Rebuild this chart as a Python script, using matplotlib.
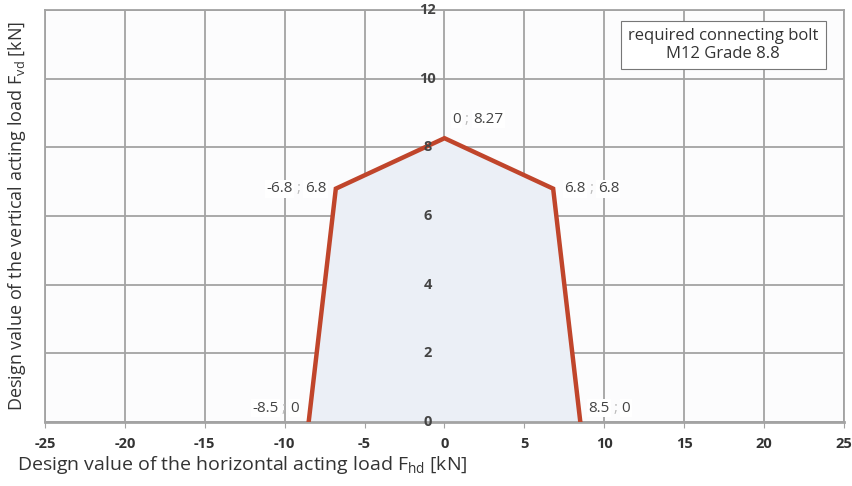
import matplotlib
matplotlib.use('Agg')
import matplotlib.pyplot as plt

plt.rcParams['font.family'] = ['Open Sans', 'DejaVu Sans']
plt.rcParams['axes.unicode_minus'] = False

# interaction diagram points (horizontal load, vertical load)
fh = [-8.5, -6.8, 0, 6.8, 8.5]
fv = [0, 6.8, 8.27, 6.8, 0]
point_labels = [('-8.5', '0'), ('-6.8', '6.8'), ('0', '8.27'), ('6.8', '6.8'), ('8.5', '0')]

x_ticks = [-25, -20, -15, -10, -5, 0, 5, 10, 15, 20, 25]
y_ticks = [0, 2, 4, 6, 8, 10, 12]

fig = plt.figure(figsize=(8.52, 4.86), dpi=100)
ax = fig.add_axes([0.0528, 0.1317, 0.9378, 0.8473])
ax.set_facecolor('#fcfcfd')

ax.set_xlim(-25, 25)
ax.set_ylim(0, 12)
ax.set_xticks(x_ticks)
ax.set_yticks(y_ticks)
ax.grid(True, color='#a3a3a3', lw=1.3)
ax.set_axisbelow(True)
for s in ax.spines.values():
    s.set_color('#a3a3a3')
    s.set_linewidth(1.3)
ax.spines['bottom'].set_linewidth(2)

ax.tick_params(axis='x', length=4, color='#a3a3a3', labelsize=10.5, pad=7, labelcolor='#333333')
for t in ax.get_xticklabels():
    t.set_fontweight('bold')
ax.tick_params(axis='y', length=0, labelleft=False)

# y tick labels drawn next to the zero line
for v in y_ticks:
    ax.text(-1.05, v, str(v), ha='center', va='center', fontsize=10.5, fontweight='bold',
            color='#444444', zorder=5)

# filled area and outline
ax.fill(fh, fv, color='#ebeff6', zorder=1)
ax.plot(fh, fv, color='#c0452b', lw=3.2, zorder=4, solid_joinstyle='miter')

# point labels
fs = 11
offsets = [(-0.6, 0.4, 'right'), (-0.6, 0, 'right'), (0.5, 0.55, 'left'), (0.7, 0, 'left'), (0.5, 0.4, 'left')]
for (x, y), (a, b), (dx, dy, ha) in zip(zip(fh, fv), point_labels, offsets):
    bb = dict(facecolor='white', edgecolor='none', pad=1)
    if ha == 'left':
        t1 = ax.text(x + dx, y + dy, a, ha='left', va='center', fontsize=fs, color='#444444', bbox=bb, zorder=6)
        t2 = ax.annotate(' ; ', xy=(1, 0), xycoords=t1, va='bottom', fontsize=fs, color='#bbbbbb', zorder=6)
        ax.annotate(b, xy=(1, 0), xycoords=t2, va='bottom', fontsize=fs, color='#444444',
                    bbox=bb, zorder=6)
    else:
        t1 = ax.text(x + dx, y + dy, b, ha='right', va='center', fontsize=fs, color='#444444', bbox=bb, zorder=6)
        t2 = ax.annotate(' ; ', xy=(0, 0), xycoords=t1, ha='right', va='bottom', fontsize=fs, color='#bbbbbb', zorder=6)
        ax.annotate(a, xy=(0, 0), xycoords=t2, ha='right', va='bottom', fontsize=fs, color='#444444',
                    bbox=bb, zorder=6)

# note box
ax.text(0.849, 0.915, 'required connecting bolt\nM12 Grade 8.8', transform=ax.transAxes,
        ha='center', va='center', fontsize=12, color='#333333', linespacing=1.2,
        bbox=dict(facecolor='white', edgecolor='#777777', lw=0.8, pad=5), zorder=7)

ax.set_ylabel('Design value of the vertical acting load F$_{\\mathregular{vd}}$ [kN]',
              fontsize=13, color='#333333', labelpad=12)
fig.text(0.02, 0.02, 'Design value of the horizontal acting load F$_{\\mathregular{hd}}$ [kN]',
         fontsize=14, color='#333333', ha='left', va='bottom')

fig.savefig('out.png', dpi=100)
